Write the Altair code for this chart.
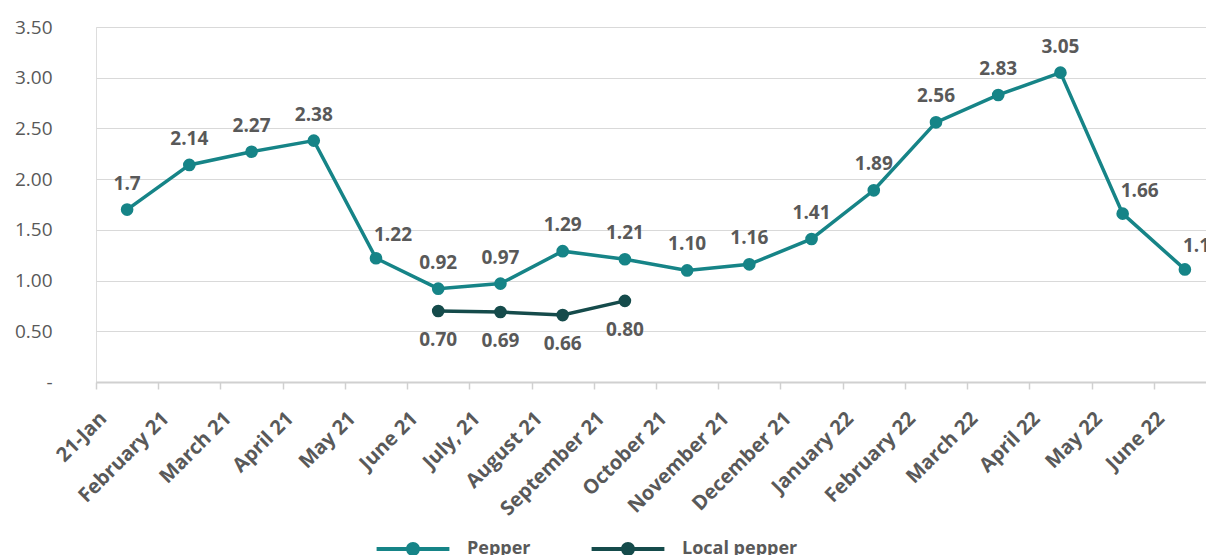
import json
import altair as alt
import pandas as pd

months = ["21-Jan", "February 21", "March 21", "April 21", "May 21", "June 21",
          "July, 21", "August 21", "September 21", "October 21", "November 21",
          "December 21", "January 22", "February 22", "March 22", "April 22",
          "May 22", "June 22"]
pepper = [1.70, 2.14, 2.27, 2.38, 1.22, 0.92, 0.97, 1.29, 1.21, 1.10, 1.16,
          1.41, 1.89, 2.56, 2.83, 3.05, 1.66, 1.11]
pepper_labels = ["1.7", "2.14", "2.27", "2.38", "1.22", "0.92", "0.97", "1.29",
                 "1.21", "1.10", "1.16", "1.41", "1.89", "2.56", "2.83", "3.05",
                 "1.66", "1.11"]
# months whose Pepper label sits above-right of the point instead of centred
right_label_months = ["May 21", "May 22", "June 22"]
local_months = ["June 21", "July, 21", "August 21", "September 21"]
local = [0.70, 0.69, 0.66, 0.80]
local_labels = ["0.70", "0.69", "0.66", "0.80"]
y_ticks = [0, 0.5, 1.0, 1.5, 2.0, 2.5, 3.0, 3.5]
series_names = ["Pepper", "Local pepper"]

rows = []
for m, v, l in zip(months, pepper, pepper_labels):
    rows.append({"month": m, "pos": months.index(m) + 0.5, "value": v,
                 "label": l, "series": "Pepper",
                 "side": "right" if m in right_label_months else "above"})
for m, v, l in zip(local_months, local, local_labels):
    rows.append({"month": m, "pos": months.index(m) + 0.5, "value": v,
                 "label": l, "series": "Local pepper", "side": "below"})
df = pd.DataFrame(rows)

TEAL = "#168487"
DARK = "#154B4B"
GRAY = "#595959"
FONT = "Open Sans"

# line segment plus dot, both wound clockwise so they merge into one shape
legend_path = ("M-2.6,-0.14 L2.6,-0.14 L2.6,0.14 L-2.6,0.14 Z "
               "M-0.5,0 A0.5,0.5 0 1,1 0.5,0 A0.5,0.5 0 1,1 -0.5,0 Z")

def make_legend():
    return alt.Legend(
        title=None, orient="none", direction="horizontal",
        legendX=303, legendY=508, padding=0,
        symbolType=legend_path, symbolSize=784, symbolStrokeWidth=0,
        labelFont=FONT, labelFontSize=18, labelFontWeight="bold",
        labelColor=GRAY, labelOffset=40, columnPadding=60,
    )

sc = alt.Scale(domain=series_names, range=[TEAL, DARK])
stroke = alt.Stroke("series:N", scale=sc, legend=make_legend())
fill = alt.Fill("series:N", scale=sc, legend=make_legend())

x = alt.X("pos:Q",
          scale=alt.Scale(domain=[0, 18], range=[0, 1120], nice=False, zero=False),
          axis=alt.Axis(
              title=None, values=list(range(len(months))), grid=False,
              labelExpr=json.dumps(months) + "[datum.value]",
              labelAngle=-45, labelAlign="right", labelBaseline="top",
              labelFont=FONT, labelFontSize=20, labelFontWeight="bold",
              labelColor=GRAY, labelPadding=19, labelOffset=0,
              labelOverlap=False, labelFlush=False, labelBound=False,
              domainColor="#D0D0D0", domainWidth=2, tickColor="#D0D0D0",
              tickSize=7, tickWidth=1.5))
y = alt.Y("value:Q",
          scale=alt.Scale(domain=[0, 3.5], nice=False),
          axis=alt.Axis(
              title=None, values=y_ticks, domain=False, ticks=False,
              labelExpr="datum.value == 0 ? '-' : format(datum.value, '.2f')",
              labelFont=FONT, labelFontSize=19, labelColor=GRAY, labelPadding=44,
              gridColor="#D9D9D9", gridWidth=1.2))

base = alt.Chart(df)
lines = base.mark_line(strokeWidth=3.5).encode(
    x=x, y=y, stroke=stroke, detail="series:N")
points = base.mark_circle(size=160, opacity=1).encode(
    x=x, y=y, fill=fill)

text_style = dict(font=FONT, fontSize=19, fontWeight="bold", color=GRAY)
above_text = base.transform_filter(alt.datum.side == "above").mark_text(
    dy=-26, **text_style).encode(x=x, y=y, text="label:N")
right_text = base.transform_filter(alt.datum.side == "right").mark_text(
    dy=-23, dx=17, **text_style).encode(x=x, y=y, text="label:N")
below_text = base.transform_filter(alt.datum.side == "below").mark_text(
    dy=29, **text_style).encode(x=x, y=y, text="label:N")

chart = alt.layer(lines, points, above_text, right_text, below_text).properties(
    width=1110, height=355,
    padding={"left": 96, "top": 27, "right": 0, "bottom": 173},
    autosize=alt.AutoSizeParams(type="none"),
).configure_view(stroke=None).configure(background="white")

chart.save("out.html", embed_options={"renderer": "svg", "actions": False})
